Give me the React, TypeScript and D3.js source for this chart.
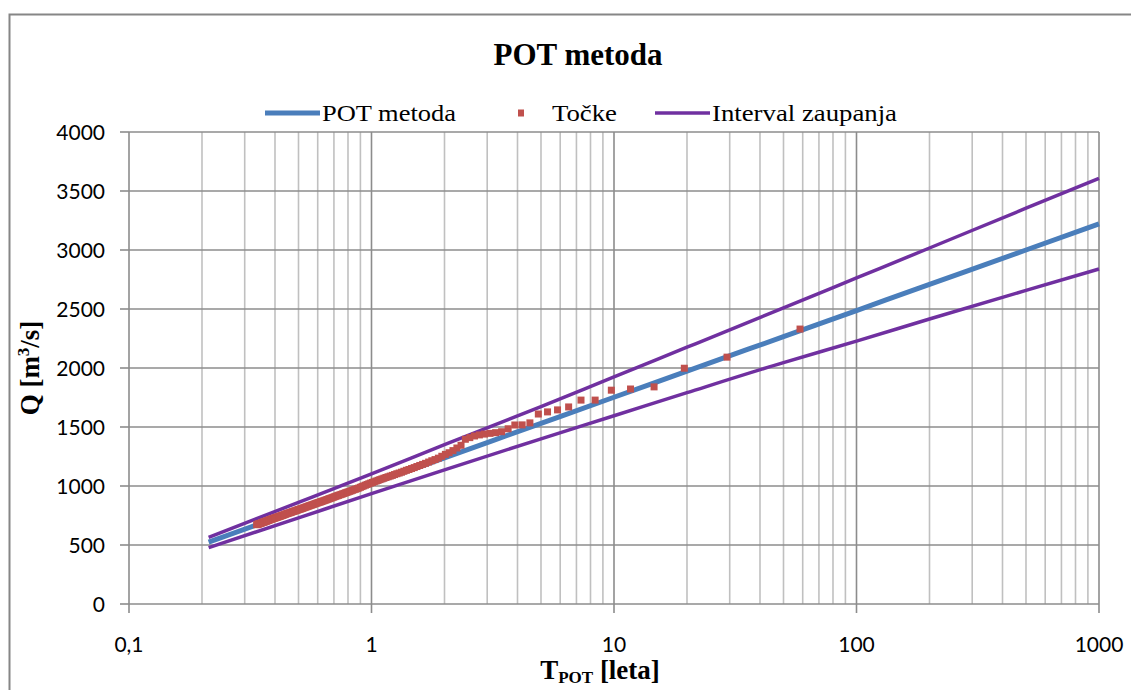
import React from "react";
import * as d3 from "d3";

// ---- data ----
const CURVE_T = [0.213, 0.5, 1, 2, 5, 10, 20, 50, 100, 200, 500, 1000];
const POT_Q = [525, 797, 1018, 1239, 1531, 1752, 1974, 2266, 2487, 2708, 3000, 3222];
const UPPER_Q = [565, 861, 1103, 1350, 1672, 1925, 2176, 2509, 2763, 3017, 3354, 3607];
const LOWER_Q = [478, 730, 935, 1137, 1400, 1595, 1791, 2046, 2228, 2415, 2658, 2839];

const TOCKE_T = [
  58.5, 29.25, 19.5, 14.63, 11.7, 9.75, 8.36, 7.31, 6.5, 5.85,
  5.32, 4.875, 4.5, 4.18, 3.9, 3.66, 3.44, 3.25, 3.08, 2.925,
  2.786, 2.659, 2.543, 2.438, 2.34, 2.25, 2.167, 2.089, 2.017, 1.95,
  1.887, 1.828, 1.773, 1.721, 1.671, 1.625, 1.581, 1.539, 1.5, 1.463,
  1.427, 1.393, 1.36, 1.33, 1.3, 1.272, 1.245, 1.219, 1.194, 1.17,
  1.147, 1.125, 1.104, 1.083, 1.064, 1.045, 1.026, 1.009, 0.992, 0.975,
  0.959, 0.944, 0.929, 0.914, 0.9, 0.886, 0.873, 0.86, 0.848, 0.836,
  0.824, 0.813, 0.801, 0.791, 0.78, 0.77, 0.76, 0.75, 0.741, 0.731,
  0.722, 0.713, 0.705, 0.696, 0.688, 0.68, 0.672, 0.665, 0.657, 0.65,
  0.643, 0.636, 0.629, 0.622, 0.616, 0.609, 0.603, 0.597, 0.591, 0.585,
  0.579, 0.574, 0.568, 0.563, 0.557, 0.552, 0.547, 0.542, 0.537, 0.532,
  0.527, 0.522, 0.518, 0.513, 0.509, 0.504, 0.5, 0.496, 0.492, 0.488,
  0.483, 0.48, 0.476, 0.472, 0.468, 0.464, 0.461, 0.457, 0.453, 0.45,
  0.447, 0.443, 0.44, 0.437, 0.433, 0.43, 0.427, 0.424, 0.421, 0.418,
  0.415, 0.412, 0.409, 0.406, 0.403, 0.401, 0.398, 0.395, 0.393, 0.39,
  0.387, 0.385, 0.382, 0.38, 0.377, 0.375, 0.373, 0.37, 0.368, 0.366,
  0.363, 0.361, 0.359, 0.357, 0.355, 0.352, 0.35, 0.348, 0.346, 0.344,
  0.342, 0.34, 0.338, 0.336,
];
const TOCKE_Q = [
  2330, 2092, 1998, 1840, 1822, 1812, 1728, 1728, 1670, 1645,
  1628, 1610, 1535, 1518, 1517, 1485, 1460, 1452, 1446, 1440,
  1433, 1424, 1410, 1396, 1345, 1322, 1300, 1282, 1268, 1252,
  1236, 1224, 1214, 1203, 1192, 1183, 1174, 1165, 1156, 1148,
  1140, 1133, 1125, 1117, 1110, 1104, 1097, 1090, 1084, 1078,
  1072, 1066, 1060, 1054, 1048, 1042, 1036, 1030, 1025, 1019,
  1013, 1007, 1001, 995, 989, 983, 978, 973, 969, 964,
  959, 955, 950, 946, 942, 937, 933, 929, 925, 921,
  917, 913, 909, 905, 901, 897, 893, 890, 886, 882,
  879, 875, 872, 868, 865, 862, 859, 856, 853, 850,
  846, 843, 840, 837, 834, 831, 828, 825, 822, 819,
  816, 813, 810, 807, 805, 802, 800, 797, 795, 792,
  789, 787, 784, 782, 779, 776, 774, 772, 769, 767,
  765, 762, 760, 757, 754, 752, 750, 747, 745, 743,
  741, 738, 736, 734, 732, 730, 728, 726, 724, 722,
  719, 717, 715, 713, 710, 708, 706, 704, 702, 700,
  697, 695, 694, 692, 690, 687, 685, 683, 681, 680,
  678, 676, 674, 672,
];

const X_TICKS = [0.1, 1, 10, 100, 1000];
const X_TICK_LABELS = ["0,1", "1", "10", "100", "1000"];
const Y_TICKS = [0, 500, 1000, 1500, 2000, 2500, 3000, 3500, 4000];

const TITLE = "POT metoda";
const LEGEND = ["POT metoda", "Točke", "Interval zaupanja"];

// ---- styling ----
const BLUE = "#4A7EBB";
const RED = "#C0504D";
const PURPLE = "#7030A0";
const GRID_MAJOR = "#8C8C8C";
const GRID_MINOR = "#C0C0C0";
const SERIF = "'Liberation Serif', 'Times New Roman', serif";
const SANS = "Lato, 'Open Sans', sans-serif";

export default function App() {
  const W = 1131;
  const H = 690;
  const left = 129;
  const right = 1099;
  const top = 132;
  const bottom = 604;

  const x = d3.scaleLog().domain([0.1, 1000]).range([left, right]);
  const y = d3.scaleLinear().domain([0, 4000]).range([bottom, top]);

  const minorX: number[] = [];
  [0.1, 1, 10, 100].forEach((d) => {
    for (let k = 2; k <= 9; k++) minorX.push(d * k);
  });

  const line = d3
    .line<[number, number]>()
    .x((d) => x(d[0]))
    .y((d) => y(d[1]))
    .curve(d3.curveMonotoneX);

  const pts = (qs: number[]) => CURVE_T.map((t, i) => [t, qs[i]] as [number, number]);

  const sq = 7;

  return (
    <svg
      width={W}
      height={H}
      style={{ position: "absolute", left: 0, top: 0, background: "#fff" }}
      xmlns="http://www.w3.org/2000/svg"
    >
      <rect x={0} y={0} width={W} height={H} fill="#fff" />
      {/* outer chart border */}
      <rect x={9.5} y={14.5} width={1300} height={900} fill="none" stroke="#868686" strokeWidth={2} />

      {/* title */}
      <text x={578} y={65} textAnchor="middle" fontFamily={SERIF} fontWeight="bold" fontSize={31}>
        {TITLE}
      </text>

      {/* legend */}
      <line x1={265} x2={320} y1={113} y2={113} stroke={BLUE} strokeWidth={5} />
      <text x={322} y={121} fontFamily={SERIF} fontSize={24} textLength={134} lengthAdjust="spacingAndGlyphs">
        {LEGEND[0]}
      </text>
      <rect x={521 - 3} y={113 - 3.5} width={6} height={7} fill={RED} />
      <text x={552} y={121} fontFamily={SERIF} fontSize={24} textLength={65} lengthAdjust="spacingAndGlyphs">
        {LEGEND[1]}
      </text>
      <line x1={655} x2={710} y1={113} y2={113} stroke={PURPLE} strokeWidth={3.5} />
      <text x={712} y={121} fontFamily={SERIF} fontSize={24} textLength={185} lengthAdjust="spacingAndGlyphs">
        {LEGEND[2]}
      </text>

      {/* minor vertical grid */}
      {minorX.map((v) => (
        <line key={"mx" + v} x1={x(v)} x2={x(v)} y1={top} y2={bottom} stroke={GRID_MINOR} strokeWidth={1.6} />
      ))}
      {/* major vertical grid */}
      {X_TICKS.slice(1).map((v) => (
        <line key={"Mx" + v} x1={x(v)} x2={x(v)} y1={top} y2={bottom} stroke={GRID_MAJOR} strokeWidth={1.6} />
      ))}
      {/* horizontal grid */}
      {Y_TICKS.slice(1).map((v) => (
        <line key={"gy" + v} x1={left} x2={right} y1={y(v)} y2={y(v)} stroke={GRID_MAJOR} strokeWidth={1.6} />
      ))}

      {/* axes */}
      <line x1={left} x2={left} y1={top} y2={bottom} stroke={GRID_MAJOR} strokeWidth={1.6} />
      <line x1={left} x2={right} y1={bottom} y2={bottom} stroke={GRID_MAJOR} strokeWidth={1.6} />
      {Y_TICKS.map((v) => (
        <line key={"ty" + v} x1={left - 9} x2={left} y1={y(v)} y2={y(v)} stroke={GRID_MAJOR} strokeWidth={1.6} />
      ))}
      {X_TICKS.map((v) => (
        <line key={"tx" + v} x1={x(v)} x2={x(v)} y1={bottom} y2={bottom + 9} stroke={GRID_MAJOR} strokeWidth={1.6} />
      ))}

      {/* tick labels */}
      {Y_TICKS.map((v) => (
        <text key={"ly" + v} x={105} y={y(v) + 7.5} textAnchor="end" fontFamily={SANS} fontSize={21} fill="#000">
          {String(v)}
        </text>
      ))}
      {X_TICKS.map((v, i) => (
        <text key={"lx" + v} x={x(v)} y={652} textAnchor="middle" fontFamily={SANS} fontSize={21} fill="#000">
          {X_TICK_LABELS[i]}
        </text>
      ))}

      {/* axis titles */}
      <text transform="translate(39,368) rotate(-90)" textAnchor="middle" fontFamily={SERIF} fontWeight="bold" fontSize={27}>
        Q [m<tspan dy={-10} fontSize={17}>3</tspan>
        <tspan dy={10}>/s]</tspan>
      </text>
      <text x={600} y={679} textAnchor="middle" fontFamily={SERIF} fontWeight="bold" fontSize={27}>
        T<tspan dy={4} fontSize={17}>POT</tspan>
        <tspan dy={-4}> [leta]</tspan>
      </text>

      {/* series */}
      <path d={line(pts(POT_Q)) || ""} fill="none" stroke={BLUE} strokeWidth={5} />
      <path d={line(pts(UPPER_Q)) || ""} fill="none" stroke={PURPLE} strokeWidth={3.5} />
      <path d={line(pts(LOWER_Q)) || ""} fill="none" stroke={PURPLE} strokeWidth={3.5} />
      {TOCKE_T.map((t, i) => (
        <rect key={"p" + i} x={x(t) - sq / 2} y={y(TOCKE_Q[i]) - sq / 2} width={sq} height={sq} fill={RED} />
      ))}
    </svg>
  );
}
